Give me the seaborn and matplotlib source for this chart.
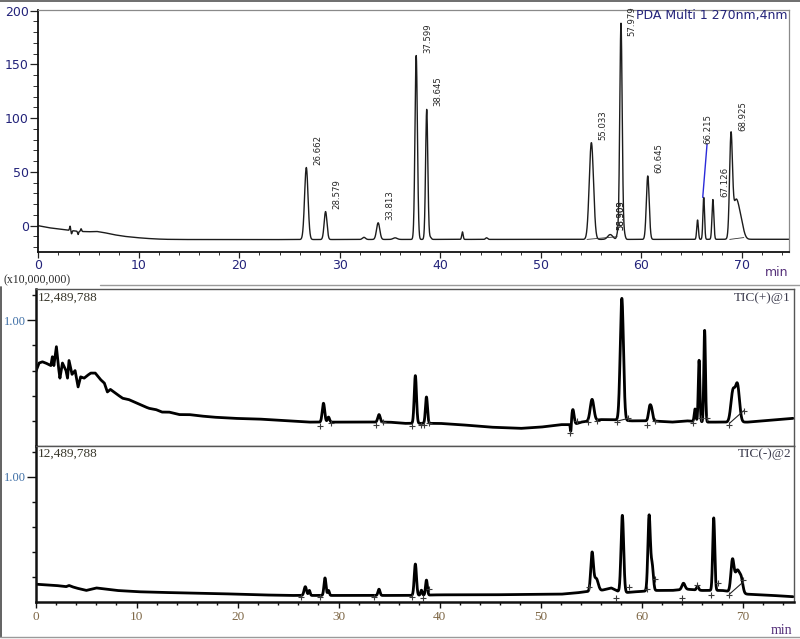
import numpy as np
import pandas as pd
import matplotlib
matplotlib.use("Agg")
import matplotlib.pyplot as plt
import seaborn as sns
from matplotlib import font_manager
from matplotlib.lines import Line2D
from matplotlib.ticker import MultipleLocator, FixedLocator, FixedFormatter, NullLocator

# ------------------------------------------------------------------ data
# PDA Multi 1, 270 nm (mAU) -- baseline knots and peaks
pda_base_t = [0, 1, 2, 3, 4, 5, 5.8, 6.5, 7.5, 8.5, 9.5, 10.5, 11.5, 12.5, 14, 20, 30, 40, 50, 60, 70, 75]
pda_base_v = [0, -1.8, -3, -4.2, -5.2, -5.6, -5.3, -6.3, -8.3, -9.8, -10.8, -11.6, -12.2, -12.6,
              -12.8, -12.9, -12.8, -12.7, -12.7, -12.7, -12.6, -12.6]
pda_rt = [3.15, 3.3, 3.95, 4.25, 26.662, 28.579, 32.4, 33.813, 35.5, 37.599, 38.645, 39.0, 42.2,
          44.6, 55.033, 56.909, 57.65, 57.979, 58.303, 60.645, 65.6, 66.215, 67.126, 68.925, 69.4, 69.9]
pda_height = [4, -3, -3, 2.5, 67, 26, 2, 15.5, 1.5, 171, 121, 2, 7,
              1.5, 90, 4.5, 5, 201, 5, 59, 18, 39, 37, 90, 34, 14]
pda_sigma = [0.05, 0.05, 0.05, 0.05, 0.17, 0.14, 0.15, 0.16, 0.2, 0.12, 0.11, 0.1, 0.07,
             0.1, 0.21, 0.25, 0.1, 0.12, 0.1, 0.14, 0.08, 0.08, 0.09, 0.14, 0.3, 0.28]
pda_label_rt = [26.662, 28.579, 33.813, 37.599, 38.645, 55.033, 56.909, 58.303, 57.979,
                60.645, 66.215, 67.126, 68.925]
pda_label_apex = [54, 13, 2.8, 158, 108.5, 77.6, -8, -8, 188, 46.5, 26.4, 24.5, 86]
pda_intbase_t = [[54.6, 57.6], [68.8, 70.2]]
pda_intbase_v = [[-12.7, -10.2], [-12.7, -11.0]]

# TIC(+)@1 (x10,000,000)
ticp_base_t = [0, 0.33, 0.66, 1.0, 1.5, 1.65, 1.8, 2.05, 2.25, 2.4, 2.65, 3.0, 3.15, 3.3, 3.6, 3.9,
               4.2, 4.45, 4.8, 5.1, 5.45, 5.9, 6.1, 6.4, 6.8, 7.1, 7.4, 7.9, 8.6, 9.2, 9.9, 10.6,
               11.2, 11.9, 12.5, 13.2, 14.2, 15.2, 16.2, 17.5, 19.6, 22, 25, 27, 30, 32, 35, 36.5,
               40, 42, 45, 48, 50, 52, 53.3, 54, 56, 57, 59, 61, 63, 64.5, 66, 67.5, 68.5, 70.5, 72, 75]
ticp_base_v = [0.59, 0.66, 0.67, 0.66, 0.64, 0.71, 0.64, 0.79, 0.63, 0.54, 0.66, 0.60, 0.54, 0.68,
               0.57, 0.60, 0.47, 0.55, 0.54, 0.56, 0.58, 0.58, 0.56, 0.53, 0.50, 0.43, 0.45, 0.42,
               0.38, 0.37, 0.345, 0.32, 0.30, 0.29, 0.27, 0.27, 0.25, 0.25, 0.24, 0.23, 0.22, 0.215,
               0.20, 0.19, 0.19, 0.19, 0.19, 0.18, 0.18, 0.17, 0.15, 0.14, 0.15, 0.17, 0.17, 0.19,
               0.21, 0.21, 0.20, 0.20, 0.19, 0.20, 0.19, 0.19, 0.19, 0.19, 0.20, 0.22]
ticp_rt = [28.5, 29.0, 34.0, 37.6, 38.7, 53.0, 53.2, 55.1, 58.05, 60.8, 61.0, 65.3, 65.7, 66.25, 69.05, 69.5]
ticp_height = [0.15, 0.04, 0.06, 0.38, 0.21, -0.08, 0.12, 0.17, 0.97, 0.10, 0.08, 0.10, 0.49, 0.73, 0.24, 0.29]
ticp_sigma = [0.12, 0.1, 0.12, 0.11, 0.1, 0.05, 0.12, 0.18, 0.16, 0.12, 0.12, 0.08, 0.08, 0.08, 0.2, 0.2]
ticp_mark_t = [28.2, 29.2, 33.7, 34.4, 37.3, 38.2, 38.5, 39.0, 52.9, 53.6, 54.7, 55.6, 57.6, 58.7,
               60.5, 61.3, 65.1, 65.9, 66.5, 68.7, 70.1]
ticp_mark_v = [0.16, 0.18, 0.17, 0.19, 0.16, 0.17, 0.17, 0.18, 0.10, 0.20, 0.19, 0.20, 0.19, 0.22,
               0.17, 0.20, 0.18, 0.22, 0.22, 0.17, 0.28]
ticp_intbase_t = [[57.7, 58.7], [68.7, 70.1]]
ticp_intbase_v = [[0.20, 0.22], [0.18, 0.28]]

# TIC(-)@2 (x10,000,000)
ticn_base_t = [0, 1, 2, 3, 3.3, 3.6, 4, 5, 6, 7, 8, 10, 12, 15, 18, 20, 22, 25, 27.5, 30, 33, 36,
               37, 40, 45, 50, 52, 53.5, 54.5, 56, 57, 58, 59.5, 61.5, 63, 64.5, 66, 68, 70.5, 72, 75]
ticn_base_v = [0.14, 0.135, 0.13, 0.12, 0.13, 0.12, 0.11, 0.09, 0.11, 0.10, 0.09, 0.08, 0.075, 0.07,
               0.065, 0.06, 0.055, 0.05, 0.05, 0.05, 0.05, 0.05, 0.05, 0.055, 0.055, 0.06, 0.06,
               0.07, 0.08, 0.09, 0.11, 0.07, 0.08, 0.09, 0.09, 0.10, 0.09, 0.09, 0.06, 0.055, 0.04]
ticn_rt = [26.7, 27.1, 28.65, 29.0, 34.0, 37.6, 38.2, 38.7, 55.1, 55.5, 58.1, 60.75, 61.05, 64.15,
           65.55, 67.15, 69.0, 69.5, 69.9]
ticn_height = [0.07, 0.04, 0.14, 0.04, 0.05, 0.25, 0.04, 0.12, 0.30, 0.10, 0.62, 0.60, 0.20, 0.05,
               0.03, 0.58, 0.24, 0.18, 0.08]
ticn_sigma = [0.12, 0.08, 0.1, 0.08, 0.1, 0.11, 0.08, 0.09, 0.13, 0.2, 0.13, 0.12, 0.12, 0.15,
              0.1, 0.1, 0.15, 0.25, 0.15]
ticn_mark_t = [26.3, 28.2, 33.5, 37.3, 38.4, 39.0, 54.8, 57.5, 58.8, 60.5, 61.3, 64.0, 65.5, 66.9,
               67.6, 68.7, 70.0]
ticn_mark_v = [0.04, 0.04, 0.04, 0.04, 0.03, 0.10, 0.12, 0.03, 0.12, 0.10, 0.18, 0.03, 0.13, 0.05,
               0.15, 0.05, 0.17]
ticn_intbase_t = [[68.7, 70.1]]
ticn_intbase_v = [[0.06, 0.16]]

tic_max_label = "12,489,788"
tic_max = 1.2489788

# ------------------------------------------------------------------ helpers
def trace(t, base_t, base_v, rts, hs, sig):
    y = np.interp(t, base_t, base_v)
    for r, h, s in zip(rts, hs, sig):
        y = y + h * np.exp(-0.5 * ((t - r) / s) ** 2)
    return y

t_grid = np.arange(0, 75.0001, 0.01)
pda_df = pd.DataFrame({"t": t_grid, "v": trace(t_grid, pda_base_t, pda_base_v, pda_rt, pda_height, pda_sigma)})
ticp_df = pd.DataFrame({"t": t_grid, "v": trace(t_grid, ticp_base_t, ticp_base_v, ticp_rt, ticp_height, ticp_sigma)})
ticn_df = pd.DataFrame({"t": t_grid, "v": trace(t_grid, ticn_base_t, ticn_base_v, ticn_rt, ticn_height, ticn_sigma)})

# ------------------------------------------------------------------ style
sns.set_theme(style="white")
plt.rcParams["font.family"] = ["DejaVu Sans"]
names = {f.name for f in font_manager.fontManager.ttflist}
if "Liberation Sans Narrow" in names:
    narrow_kw = dict(family=["Liberation Sans Narrow", "DejaVu Sans"], fontsize=8.5)
else:
    narrow_kw = dict(family=["DejaVu Sans"], fontstretch="condensed", fontsize=6.8)
serif = ["Liberation Serif", "DejaVu Serif"]

W, H = 800, 639
fig = plt.figure(figsize=(W / 100, H / 100), dpi=100)

def fx(px):
    return px / W

def fy(py):
    return 1 - py / H

navy = "#23237a"
purple = "#55307a"

# ------------------------------------------------------------------ top: PDA
ax0 = fig.add_axes([fx(38.4), fy(252.3), fx(789 - 38.4), (252.3 - 9.5) / H])
sns.lineplot(data=pda_df, x="t", y="v", ax=ax0, color="#1c1c1c", linewidth=1.0, estimator=None)
for bt, bv in zip(pda_intbase_t, pda_intbase_v):
    ax0.plot(bt, bv, color="#333333", linewidth=0.6)
ax0.set_xlim(0, 74.7)
ax0.set_ylim(-24.7, 201.1)
ax0.set_xlabel("")
ax0.set_ylabel("")
ax0.xaxis.set_major_locator(MultipleLocator(10))
ax0.xaxis.set_minor_locator(MultipleLocator(2))
ax0.yaxis.set_major_locator(FixedLocator([0, 50, 100, 150, 200]))
ax0.yaxis.set_minor_locator(MultipleLocator(10))
ax0.tick_params(axis="y", which="major", direction="out", length=5.8, width=0.9, pad=1,
                labelsize=9, labelcolor=navy, color="#222222", left=True)
ax0.tick_params(axis="y", which="minor", direction="out", length=3.4, width=0.7, color="#333333", left=True)
ax0.tick_params(axis="x", which="major", direction="out", length=4.3, width=0.9, pad=0.5,
                labelsize=9, labelcolor=navy, color="#222222", bottom=True)
ax0.tick_params(axis="x", which="minor", direction="out", length=2.3, width=0.7, color="#333333", bottom=True)
for side in ["left", "bottom"]:
    ax0.spines[side].set_color("#111111")
    ax0.spines[side].set_linewidth(1.3)
for side in ["top", "right"]:
    ax0.spines[side].set_color("#8a8a8a")
    ax0.spines[side].set_linewidth(0.9)

# peak labels (layout offsets in minutes / label bottoms in mAU)
label_dx = {56.909: 1.1, 58.303: -0.3, 57.979: 1.05, 66.215: 0.45}
label_dy = {56.909: 4.0, 58.303: 4.0, 57.979: -12.0, 66.215: 49.6}
for rt, apex in zip(pda_label_rt, pda_label_apex):
    dx = label_dx.get(rt, 1.15)
    dy = label_dy.get(rt, 2.5)
    ax0.text(rt + dx, apex + dy, f"{rt:.3f}", rotation=90, ha="center", va="bottom",
             color="#262626", **narrow_kw)
# blue leader line for 66.215
i_lead = pda_label_rt.index(66.215)
ax0.plot([66.215 - 0.1, 66.215 + 0.33], [pda_label_apex[i_lead], pda_label_apex[i_lead] + label_dy[66.215]],
         color="#2b2bd9", linewidth=1.0)

fig.text(fx(788), fy(15), "PDA Multi 1 270nm,4nm", ha="right", va="center", fontsize=9, color=navy)
fig.text(fx(788), fy(273), "min", ha="right", va="center", fontsize=9, color=purple)

# ------------------------------------------------------------------ TIC panels
def tic_axes(rect, df, marks_t, marks_v, ib_t, ib_v, name, show_x):
    ax = fig.add_axes(rect)
    sns.lineplot(data=df, x="t", y="v", ax=ax, color="#000000", linewidth=2.0, estimator=None)
    for bt, bv in zip(ib_t, ib_v):
        ax.plot(bt, bv, color="#222222", linewidth=0.8)
    ax.plot(marks_t, marks_v, linestyle="none", marker="+", markersize=5, markeredgewidth=0.8,
            color="#3a3a3a")
    ax.set_xlim(0, 75.1)
    ax.set_ylim(0, tic_max)
    ax.set_xlabel("")
    ax.set_ylabel("")
    ax.yaxis.set_major_locator(FixedLocator([1.0]))
    ax.yaxis.set_major_formatter(FixedFormatter(["1.00"]))
    ax.yaxis.set_minor_locator(FixedLocator([0.2, 0.4, 0.6, 0.8, 1.2]))
    ax.tick_params(axis="y", which="major", direction="out", length=6.5, width=1.0, pad=0.5,
                   labelsize=9, labelcolor="#3f6fa6", color="#111111", left=True)
    ax.tick_params(axis="y", which="minor", direction="out", length=3.0, width=1.0,
                   color="#111111", left=True)
    for lab in ax.get_yticklabels():
        lab.set_fontfamily(serif)
    if show_x:
        ax.xaxis.set_major_locator(MultipleLocator(10))
        ax.xaxis.set_minor_locator(MultipleLocator(2))
        ax.tick_params(axis="x", which="major", direction="out", length=4.5, width=1.0, pad=2,
                       labelsize=9.5, labelcolor="#7f6847", color="#111111", bottom=True)
        ax.tick_params(axis="x", which="minor", direction="out", length=2.5, width=1.0,
                       color="#111111", bottom=True)
        for lab in ax.get_xticklabels():
            lab.set_fontfamily(serif)
        ax.spines["bottom"].set_color("#111111")
        ax.spines["bottom"].set_linewidth(1.8)
    else:
        ax.xaxis.set_major_locator(NullLocator())
        ax.xaxis.set_minor_locator(NullLocator())
        ax.spines["bottom"].set_color("#555555")
        ax.spines["bottom"].set_linewidth(1.0)
    ax.spines["left"].set_color("#111111")
    ax.spines["left"].set_linewidth(1.8)
    for side in ["top", "right"]:
        ax.spines[side].set_color("#555555")
        ax.spines[side].set_linewidth(1.0)
    ax.text(0.003, 1 - 2.5 / 157, tic_max_label, transform=ax.transAxes, ha="left", va="top",
            fontsize=9.5, family=serif, color="#3a382c")
    ax.text(1 - 3 / 758, 1 - 2.5 / 157, name, transform=ax.transAxes, ha="right", va="top",
            fontsize=9.5, family=serif, color="#3a3a4c")
    return ax

ax1 = tic_axes([fx(35.7), fy(446), fx(794 - 35.7), 157 / H], ticp_df, ticp_mark_t, ticp_mark_v,
               ticp_intbase_t, ticp_intbase_v, "TIC(+)@1", False)
ax2 = tic_axes([fx(35.7), fy(601.7), fx(794 - 35.7), (601.7 - 445.5) / H], ticn_df, ticn_mark_t,
               ticn_mark_v, ticn_intbase_t, ticn_intbase_v, "TIC(-)@2", True)

fig.text(fx(3), fy(280.5), "(x10,000,000)", ha="left", va="center", fontsize=8.5, family=serif,
         color="#2a2a2a")
fig.text(fx(792), fy(630), "min", ha="right", va="center", fontsize=10, family=serif, color=purple)

# ------------------------------------------------------------------ picture frames
for xs, ys, c, lw in [([0, 1], [fy(1), fy(1)], "#555555", 1.2),
                      ([fx(100), 1], [fy(285), fy(285)], "#9a9a9a", 1.0),
                      ([fx(1), fx(1)], [fy(287), fy(637)], "#555555", 1.3),
                      ([0, 1], [fy(637), fy(637)], "#9a9a9a", 1.0)]:
    fig.add_artist(Line2D(xs, ys, transform=fig.transFigure, color=c, linewidth=lw))

fig.savefig("out.png", dpi=100)
